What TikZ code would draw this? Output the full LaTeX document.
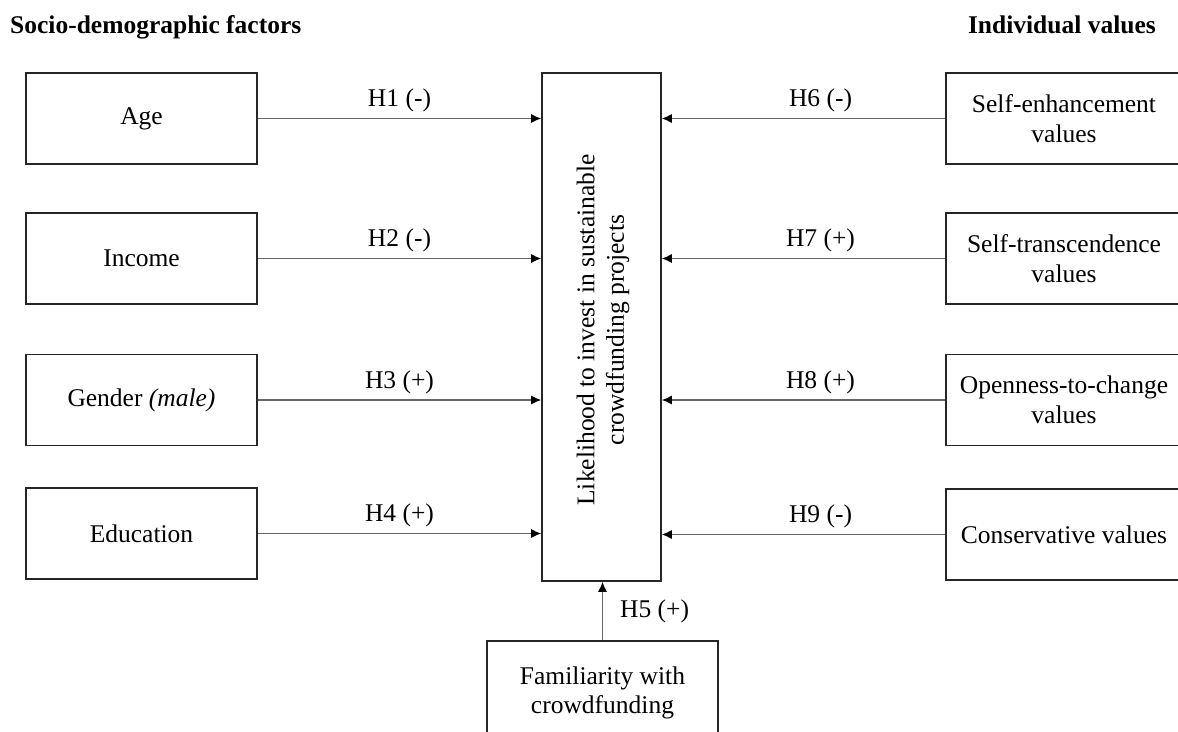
\documentclass[tikz,border=0pt]{standalone}
\usepackage{fontspec}
\setmainfont{Liberation Serif}
\usetikzlibrary{arrows.meta}
\begin{document}
\begin{tikzpicture}[x=1pt,y=-1pt,
  every node/.style={font=\fontsize{25.5}{29.5}\selectfont},
  box/.style={draw=black!85, line width=1.6pt, minimum width=231pt, minimum height=91pt, align=center, inner sep=0pt},
  conn/.style={draw=black!60, line width=1.2pt, -{Latex[length=10pt,width=9pt,color=black]}},
  lab/.style={inner sep=0pt, anchor=base},
  title/.style={font=\fontsize{25.5}{29.5}\selectfont\bfseries, inner sep=0pt}]
\useasboundingbox (0,0) rectangle (1178,731);
\clip (0,0) rectangle (1178,731);
% titles
\node[title, anchor=base west] (tl) at (10,33) {Socio-demographic factors};
\node[title, anchor=base east] (tr) at (1156,33) {Individual values};
% center box
\node[draw=black!85, line width=1.6pt, minimum width=119pt, minimum height=508pt, inner sep=0pt] (c) at (601.5,327) {};
\node[rotate=90, align=center, inner sep=0pt] (ct) at (603,330) {Likelihood to invest in sustainable\\crowdfunding projects};
% left boxes
\node[box] (age) at (141.5,118.5) {Age};
\node[box] (inc) at (141.5,258.5) {Income};
\node[box] (gen) at (141.5,400) {Gender \textit{(male)}};
\node[box] (edu) at (141.5,533.5) {Education};
% right boxes
\node[box, minimum width=236pt] (se) at (1064,118.5) {Self-enhancement\\values};
\node[box, minimum width=236pt] (st) at (1064,258.5) {Self-transcendence\\values};
\node[box, minimum width=236pt] (oc) at (1064,400) {Openness-to-change\\values};
\node[box, minimum width=236pt] (cv) at (1064,534.5) {Conservative values};
% bottom box
\node[box, minimum height=104pt] (fam) at (602.5,693) {Familiarity with\\crowdfunding};
% connectors
\draw[conn] (age.east) -- (age.east -| c.west) node[lab, pos=0.5, yshift=12pt] {H1 (-)};
\draw[conn] (inc.east) -- (inc.east -| c.west) node[lab, pos=0.5, yshift=12pt] {H2 (-)};
\draw[conn] (gen.east) -- (gen.east -| c.west) node[lab, pos=0.5, yshift=12pt] {H3 (+)};
\draw[conn] (edu.east) -- (edu.east -| c.west) node[lab, pos=0.5, yshift=12pt] {H4 (+)};
\draw[conn] (se.west) -- (se.west -| c.east) node[lab, pos=0.44, yshift=12pt] {H6 (-)};
\draw[conn] (st.west) -- (st.west -| c.east) node[lab, pos=0.44, yshift=12pt] {H7 (+)};
\draw[conn] (oc.west) -- (oc.west -| c.east) node[lab, pos=0.44, yshift=12pt] {H8 (+)};
\draw[conn] (cv.west) -- (cv.west -| c.east) node[lab, pos=0.44, yshift=12pt] {H9 (-)};
\draw[conn] (fam.north) -- (fam.north |- c.south) node[pos=0.5, anchor=west, inner sep=0pt, xshift=17pt] {H5 (+)};
\end{tikzpicture}
\end{document}
